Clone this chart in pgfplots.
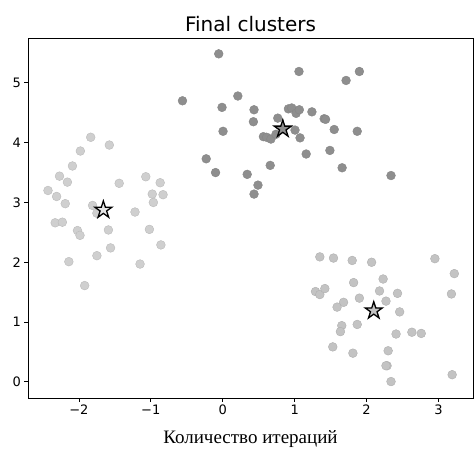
\documentclass[border=0pt]{standalone}
\usepackage{pgfplots}
\pgfplotsset{compat=1.18}
\usepackage{fontspec}
\setmainfont{DejaVu Sans}
\newfontfamily\serifru{Liberation Serif}
\definecolor{cleft}{HTML}{CFCFCF}
\definecolor{cright}{HTML}{C3C3C3}
\definecolor{cmid}{HTML}{8E8E8E}
\definecolor{cedge}{HTML}{858585}

% filled five-pointed star, like matplotlib's '*'
\pgfdeclareplotmark{fstar}{%
  \pgfpathmoveto{\pgfpointpolar{90}{\pgfplotmarksize}}%
  \pgfpathlineto{\pgfpointpolar{126}{0.382\pgfplotmarksize}}%
  \pgfpathlineto{\pgfpointpolar{162}{\pgfplotmarksize}}%
  \pgfpathlineto{\pgfpointpolar{198}{0.382\pgfplotmarksize}}%
  \pgfpathlineto{\pgfpointpolar{234}{\pgfplotmarksize}}%
  \pgfpathlineto{\pgfpointpolar{270}{0.382\pgfplotmarksize}}%
  \pgfpathlineto{\pgfpointpolar{306}{\pgfplotmarksize}}%
  \pgfpathlineto{\pgfpointpolar{342}{0.382\pgfplotmarksize}}%
  \pgfpathlineto{\pgfpointpolar{18}{\pgfplotmarksize}}%
  \pgfpathlineto{\pgfpointpolar{54}{0.382\pgfplotmarksize}}%
  \pgfpathclose
  \pgfusepathqfillstroke
}

\begin{document}
\begin{tikzpicture}
\begin{axis}[
    scale only axis,
    width=445pt, height=360pt,
    xmin=-2.708, xmax=3.48,
    ymin=-0.27, ymax=5.75,
    xtick={-2,-1,0,1,2,3},
    xticklabels={−2,−1,0,1,2,3},
    ytick={0,1,2,3,4,5},
    yticklabels={0,1,2,3,4,5},
    tick label style={font=\fontsize{13}{15}\selectfont},
    tick align=outside,
    xtick pos=left, ytick pos=left,
    major tick length=3.5pt,
    tick style={black, line width=0.8pt},
    axis line style={line width=0.9pt},
    title={Final clusters},
    title style={font=\fontsize{20}{24}\selectfont, yshift=-3pt},
    xlabel={\serifru Количество итераций},
    xlabel style={font=\fontsize{19}{22}\selectfont, inner sep=1pt,
      yshift=-11pt},
    clip=false,
]
% left cluster
\addplot[only marks, mark=*, mark size=4.4pt,
  mark options={fill=cleft, draw=cleft!90!black, line width=0.4pt}]
  coordinates {
  (-1.836,4.09) (-1.577,3.96) (-1.98,3.86) (-2.09,3.61) (-2.27,3.44)
  (-2.16,3.34) (-2.43,3.20) (-2.31,3.10) (-2.19,2.98) (-1.81,2.95)
  (-1.44,3.32) (-1.07,3.43) (-0.87,3.33) (-0.98,3.14) (-0.83,3.13)
  (-0.965,3.00) (-1.22,2.84) (-1.75,2.82) (-2.33,2.66) (-2.23,2.67)
  (-2.02,2.53) (-1.985,2.45) (-1.59,2.54) (-1.02,2.55) (-1.56,2.24)
  (-0.86,2.29) (-1.75,2.11) (-2.14,2.01) (-1.15,1.97) (-1.92,1.61)
  };
% middle cluster
\addplot[only marks, mark=*, mark size=4.4pt,
  mark options={fill=cmid, draw=cedge, line width=0.4pt}]
  coordinates {
  (-0.056,5.485) (-0.56,4.70) (0.21,4.78) (-0.01,4.59) (0.004,4.19)
  (-0.23,3.73) (-0.10,3.50) (1.06,5.19) (1.90,5.19) (1.715,5.04)
  (0.435,4.55) (0.426,4.35) (0.765,4.41) (0.913,4.565) (0.96,4.58)
  (1.02,4.49) (1.065,4.55) (1.24,4.515) (1.41,4.40) (1.43,4.39)
  (1.55,4.22) (1.87,4.19) (1.005,4.21) (1.075,4.08) (0.565,4.10)
  (0.61,4.09) (0.67,4.06) (0.74,4.14) (1.49,3.87) (1.16,3.81)
  (0.66,3.62) (1.66,3.58) (2.34,3.45) (0.34,3.47) (0.49,3.29)
  (0.435,3.14)
  };
% right cluster
\addplot[only marks, mark=*, mark size=4.4pt,
  mark options={fill=cright, draw=cright!90!black, line width=0.4pt}]
  coordinates {
  (1.35,2.09) (1.54,2.07) (1.80,2.03) (2.07,2.00) (2.95,2.06)
  (3.22,1.81) (1.82,1.66) (2.23,1.72) (1.29,1.51) (1.35,1.46)
  (1.42,1.56) (2.18,1.52) (2.43,1.48) (3.18,1.47) (1.90,1.40)
  (2.27,1.35) (1.68,1.33) (1.59,1.25) (2.46,1.17) (1.655,0.94)
  (1.636,0.84) (1.87,0.96) (2.41,0.80) (2.63,0.83) (2.76,0.81)
  (1.53,0.585) (1.81,0.48) (2.30,0.52) (2.285,0.27) (2.27,0.27)
  (2.34,0.005) (3.19,0.12)
  };
% centroids
\addplot[only marks, mark=fstar, mark size=9pt,
  mark options={fill=cleft!55!white, draw=black, line width=1.3pt}]
  coordinates {(-1.66,2.875)};
\addplot[only marks, mark=fstar, mark size=9pt,
  mark options={fill=cmid, draw=black, line width=1.3pt}]
  coordinates {(0.835,4.23)};
\addplot[only marks, mark=fstar, mark size=9pt,
  mark options={fill=cright, draw=black, line width=1.3pt}]
  coordinates {(2.10,1.19)};
\end{axis}
\path ([xshift=-28pt,yshift=-48pt]current axis.south west)
  rectangle ([xshift=2pt,yshift=38pt]current axis.north east);
\end{tikzpicture}
\end{document}
